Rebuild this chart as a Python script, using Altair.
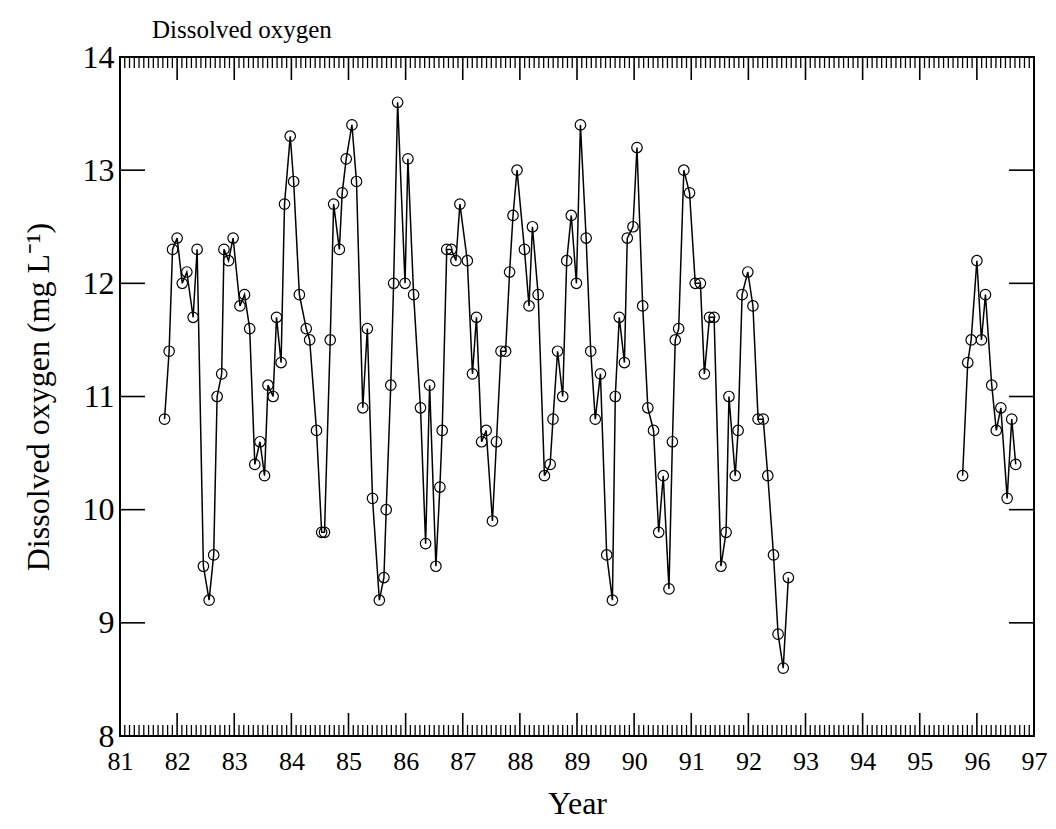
import altair as alt
import pandas as pd

# ---- data ----
years_a = [81.78, 81.86, 81.92, 82.00, 82.09, 82.17, 82.28, 82.35, 82.46, 82.56, 82.64, 82.70,
           82.78, 82.82, 82.90, 82.98, 83.10, 83.18, 83.27, 83.36, 83.45, 83.53, 83.59, 83.68,
           83.74, 83.82, 83.88, 83.98, 84.04, 84.14, 84.26, 84.32, 84.44, 84.53, 84.58, 84.68,
           84.74, 84.84, 84.89, 84.96, 85.06, 85.14, 85.25, 85.33, 85.42, 85.54, 85.62, 85.66,
           85.74, 85.79, 85.86, 85.99, 86.04, 86.14, 86.26, 86.35, 86.42, 86.53, 86.60, 86.64,
           86.72, 86.80, 86.88, 86.95, 87.08, 87.17, 87.24, 87.33, 87.41, 87.52, 87.59, 87.67,
           87.75, 87.82, 87.88, 87.95, 88.08, 88.16, 88.22, 88.32, 88.43, 88.53, 88.58, 88.66,
           88.75, 88.82, 88.90, 88.99, 89.06, 89.16, 89.24, 89.32, 89.41, 89.52, 89.62, 89.67,
           89.74, 89.83, 89.88, 89.98, 90.05, 90.15, 90.24, 90.34, 90.43, 90.51, 90.61, 90.67,
           90.72, 90.78, 90.87, 90.97, 91.07, 91.16, 91.23, 91.32, 91.40, 91.52, 91.61, 91.66,
           91.77, 91.82, 91.89, 91.99, 92.08, 92.17, 92.26, 92.34, 92.44, 92.52, 92.61, 92.70]
do_a = [10.8, 11.4, 12.3, 12.4, 12.0, 12.1, 11.7, 12.3, 9.5, 9.2, 9.6, 11.0,
        11.2, 12.3, 12.2, 12.4, 11.8, 11.9, 11.6, 10.4, 10.6, 10.3, 11.1, 11.0,
        11.7, 11.3, 12.7, 13.3, 12.9, 11.9, 11.6, 11.5, 10.7, 9.8, 9.8, 11.5,
        12.7, 12.3, 12.8, 13.1, 13.4, 12.9, 10.9, 11.6, 10.1, 9.2, 9.4, 10.0,
        11.1, 12.0, 13.6, 12.0, 13.1, 11.9, 10.9, 9.7, 11.1, 9.5, 10.2, 10.7,
        12.3, 12.3, 12.2, 12.7, 12.2, 11.2, 11.7, 10.6, 10.7, 9.9, 10.6, 11.4,
        11.4, 12.1, 12.6, 13.0, 12.3, 11.8, 12.5, 11.9, 10.3, 10.4, 10.8, 11.4,
        11.0, 12.2, 12.6, 12.0, 13.4, 12.4, 11.4, 10.8, 11.2, 9.6, 9.2, 11.0,
        11.7, 11.3, 12.4, 12.5, 13.2, 11.8, 10.9, 10.7, 9.8, 10.3, 9.3, 10.6,
        11.5, 11.6, 13.0, 12.8, 12.0, 12.0, 11.2, 11.7, 11.7, 9.5, 9.8, 11.0,
        10.3, 10.7, 11.9, 12.1, 11.8, 10.8, 10.8, 10.3, 9.6, 8.9, 8.6, 9.4]

years_b = [95.75, 95.84, 95.90, 96.00, 96.08, 96.15, 96.26, 96.34, 96.42, 96.53, 96.61, 96.68]
do_b = [10.3, 11.3, 11.5, 12.2, 11.5, 11.9, 11.1, 10.7, 10.9, 10.1, 10.8, 10.4]

x_tick_years = list(range(81, 98))
y_tick_values = list(range(8, 15))

df = pd.DataFrame({
    "year": years_a + years_b,
    "do": do_a + do_b,
    "seg": ["a"] * len(years_a) + ["b"] * len(years_b),
})

minor_years = [81 + k / 12 for k in range(16 * 12 + 1) if k % 12 != 0]
major_df = pd.DataFrame({"year": x_tick_years})
minor_df = pd.DataFrame({"year": minor_years})
ytick_df = pd.DataFrame({"do": y_tick_values})

W, H = 914, 679
FONT = "Liberation Serif"

xs = alt.Scale(domain=[81, 97], nice=False, zero=False)
ys = alt.Scale(domain=[8, 14], nice=False, zero=False)

xaxis = alt.Axis(values=x_tick_years, format="d", tickSize=0, domain=False, grid=False,
                 labelFont=FONT, labelFontSize=26, labelColor="black", labelPadding=12,
                 labelFlush=False, labelOverlap=False,
                 title="Year", titleFont=FONT, titleFontSize=32, titleFontWeight="normal",
                 titleColor="black", titlePadding=14)
yaxis = alt.Axis(values=y_tick_values, format="d", tickSize=0, domain=False, grid=False,
                 labelFont=FONT, labelFontSize=32, labelColor="black", labelPadding=6,
                 labelFlush=False, labelOverlap=False,
                 title="Dissolved oxygen (mg L⁻¹)", titleFont=FONT, titleFontSize=32,
                 titleFontWeight="normal", titleColor="black", titlePadding=27)

X = alt.X("year:Q", scale=xs, axis=xaxis)
Y = alt.Y("do:Q", scale=ys, axis=yaxis)

line = alt.Chart(df).mark_line(color="black", strokeWidth=1.5).encode(x=X, y=Y, detail="seg:N")
pts = alt.Chart(df).mark_point(shape="circle", filled=False, color="black", size=110,
                               strokeWidth=1.2, opacity=1).encode(x=X, y=Y)

tick_style = dict(color="black", strokeWidth=1.6)
bot_major = alt.Chart(major_df).mark_rule(**tick_style).encode(x=X, y=alt.value(H), y2=alt.value(H - 23))
top_major = alt.Chart(major_df).mark_rule(**tick_style).encode(x=X, y=alt.value(0), y2=alt.value(23))
bot_minor = alt.Chart(minor_df).mark_rule(color="black", strokeWidth=1.3).encode(x=X, y=alt.value(H), y2=alt.value(H - 11))
top_minor = alt.Chart(minor_df).mark_rule(color="black", strokeWidth=1.3).encode(x=X, y=alt.value(0), y2=alt.value(11))
left_major = alt.Chart(ytick_df).mark_rule(**tick_style).encode(y=Y, x=alt.value(0), x2=alt.value(25))
right_major = alt.Chart(ytick_df).mark_rule(**tick_style).encode(y=Y, x=alt.value(W), x2=alt.value(W - 25))

chart = alt.layer(
    line, pts, bot_major, top_major, bot_minor, top_minor, left_major, right_major
).properties(
    width=W, height=H,
    background="white",
    title=alt.TitleParams("Dissolved oxygen", anchor="start", frame="group", font=FONT,
                          fontSize=25, fontWeight="normal", color="black", dx=32, dy=28,
                          offset=6, baseline="alphabetic"),
    autosize=alt.AutoSizeParams(type="none"),
    padding={"left": 120, "top": 57, "right": 22, "bottom": 93},
).configure_view(
    stroke="black", strokeWidth=2
)

chart.save("out.html", embed_options={"renderer": "svg", "actions": False})
